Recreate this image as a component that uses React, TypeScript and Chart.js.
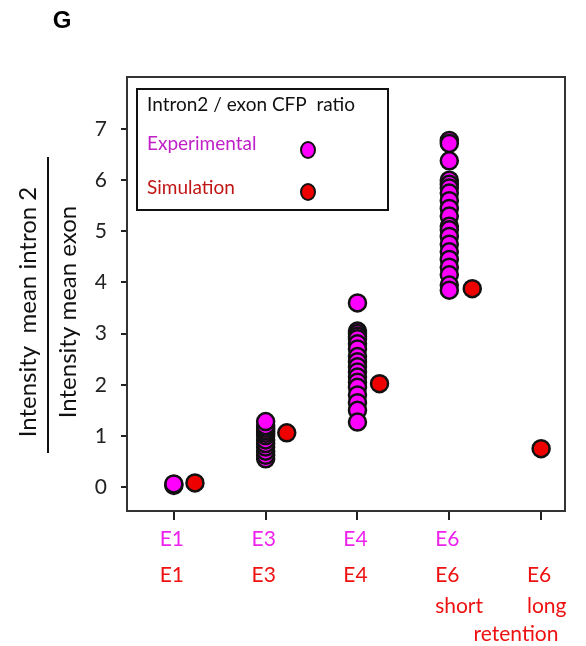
import React, { useEffect, useRef } from "react";
import { Chart, registerables } from "chart.js";

Chart.register(...registerables);

const categoryTicks = [0, 1, 2, 3, 4];
const yTicks = [0, 1, 2, 3, 4, 5, 6, 7];
const expLabels = ["E1", "E3", "E4", "E6", ""];
const simLabels = [["E1"], ["E3"], ["E4"], ["E6", "short"], ["E6", "long"]];

const expE1 = [0.03, 0.06];
const expE3 = [0.55, 0.62, 0.7, 0.78, 0.85, 0.92, 1.0, 1.05, 1.1, 1.15, 1.2, 1.28];
const expE4 = [3.6, 3.05, 3.0, 2.95, 2.9, 2.8, 2.7, 2.55, 2.45, 2.35, 2.25, 2.15, 2.05, 1.95, 1.8, 1.65, 1.5, 1.27];
const expE6 = [6.78, 6.72, 6.38, 6.0, 5.92, 5.85, 5.75, 5.6, 5.45, 5.3, 5.1, 5.03, 4.9, 4.75, 4.6, 4.45, 4.3, 4.15, 3.95, 3.85];
const simValues = [0.08, 1.06, 2.02, 3.88, 0.75];
const simX = [0.23, 1.23, 2.24, 3.25, 4.0];

const expColor = "#ff00ff";
const simColor = "#ee0000";

function buildExp() {
  const groups = [expE1, expE3, expE4, expE6];
  const out: { x: number; y: number }[] = [];
  groups.forEach((g, i) => g.forEach((v) => out.push({ x: i, y: v })));
  return out;
}

export default function App() {
  const ref = useRef<HTMLCanvasElement | null>(null);
  useEffect(() => {
    if (!ref.current) return;
    const overlay = {
      id: "overlay",
      afterDraw(chart: any) {
        const ctx = chart.ctx as CanvasRenderingContext2D;
        const a = chart.chartArea;
        const xs = chart.scales.x;
        ctx.save();
        // box top & right
        ctx.strokeStyle = "#333";
        ctx.lineWidth = 2;
        ctx.beginPath();
        ctx.moveTo(a.left, a.top);
        ctx.lineTo(a.right, a.top);
        ctx.lineTo(a.right, a.bottom);
        ctx.stroke();
        // title G
        ctx.fillStyle = "#000";
        ctx.font = "bold 24px Arial, 'Liberation Sans', sans-serif";
        ctx.textAlign = "center";
        ctx.textBaseline = "middle";
        ctx.fillText("G", 62, 21);
        // y axis title
        ctx.save();
        ctx.translate(0, 312);
        ctx.rotate(-Math.PI / 2);
        ctx.font = "24px Lato, 'Open Sans', sans-serif";
        ctx.textAlign = "center";
        ctx.fillStyle = "#111";
        ctx.fillText("Intensity  mean intron 2", 0, 28);
        ctx.fillText("Intensity mean exon", 0, 68);
        ctx.lineWidth = 2;
        ctx.strokeStyle = "#111";
        ctx.beginPath();
        ctx.moveTo(-141, 48);
        ctx.lineTo(155, 48);
        ctx.stroke();
        ctx.restore();
        // x labels
        ctx.font = "21px Lato, 'Open Sans', sans-serif";
        ctx.textBaseline = "middle";
        categoryTicks.forEach((t, i) => {
          const px = xs.getPixelForValue(t);
          const w = ctx.measureText(simLabels[i][0]).width;
          const left = px - w / 2 - 2;
          ctx.textAlign = "left";
          if (expLabels[i]) {
            ctx.fillStyle = "#ee22ee";
            ctx.fillText(expLabels[i], left, 539);
          }
          ctx.fillStyle = "#ee1111";
          simLabels[i].forEach((s, j) => {
            ctx.fillText(s, left, 575 + j * 31);
          });
        });
        ctx.fillStyle = "#ee1111";
        ctx.textAlign = "center";
        ctx.fillText("retention", 516, 634);
        // legend box
        ctx.lineWidth = 2;
        ctx.strokeStyle = "#111";
        ctx.strokeRect(137, 89, 251, 121);
        ctx.font = "19px Lato, 'Open Sans', sans-serif";
        ctx.textAlign = "left";
        ctx.fillStyle = "#111";
        ctx.fillText("Intron2 / exon CFP  ratio", 147, 105);
        ctx.fillStyle = "#c020c8";
        ctx.fillText("Experimental", 147, 144);
        ctx.fillStyle = "#c01515";
        ctx.fillText("Simulation", 147, 188);
        const drawMarker = (x: number, y: number, c: string) => {
          ctx.beginPath();
          ctx.ellipse(x, y, 7, 8, 0, 0, Math.PI * 2);
          ctx.fillStyle = c;
          ctx.fill();
          ctx.lineWidth = 2;
          ctx.strokeStyle = "#111";
          ctx.stroke();
        };
        drawMarker(308, 150, expColor);
        drawMarker(308, 192, simColor);
        ctx.restore();
      },
    };
    const chart = new Chart(ref.current, {
      type: "scatter",
      data: {
        datasets: [
          {
            label: "Experimental",
            data: buildExp(),
            backgroundColor: expColor,
            borderColor: "#111",
            borderWidth: 2.5,
            pointRadius: 8.5,
          },
          {
            label: "Simulation",
            data: simValues.map((v, i) => ({ x: simX[i], y: v })),
            backgroundColor: simColor,
            borderColor: "#111",
            borderWidth: 2.5,
            pointRadius: 8.5,
          },
        ],
      },
      options: {
        animation: false,
        responsive: false,
        layout: { padding: { left: 0, top: 77, right: 21, bottom: 0 } },
        plugins: { legend: { display: false }, tooltip: { enabled: false } },
        scales: {
          x: {
            type: "linear",
            min: -0.51,
            max: 4.26,
            afterBuildTicks: (s: any) => {
              s.ticks = categoryTicks.map((v) => ({ value: v }));
            },
            afterFit: (s: any) => {
              s.height = 135;
            },
            ticks: { callback: () => "", font: { size: 1 } },
            grid: { drawOnChartArea: false, drawTicks: true, tickLength: 9, color: "#222", lineWidth: 2 },
            border: { display: true, color: "#333", width: 2 },
          },
          y: {
            min: -0.47,
            max: 8.02,
            afterBuildTicks: (s: any) => {
              s.ticks = yTicks.map((v) => ({ value: v }));
            },
            afterFit: (s: any) => {
              s.width = 127;
            },
            ticks: {
              color: "#222",
              padding: 14,
              font: { family: "Lato, 'Open Sans', sans-serif", size: 21 },
            },
            grid: { drawOnChartArea: false, drawTicks: true, tickLength: 6, color: "#222", lineWidth: 2 },
            border: { display: true, color: "#333", width: 2 },
          },
        },
      },
      plugins: [overlay],
    } as any);
    return () => chart.destroy();
  }, []);
  return (
    <div style={{ position: "absolute", left: 0, top: 0, width: 586, height: 646, background: "#fff" }}>
      <canvas ref={ref} width={586} height={646} style={{ display: "block" }} />
    </div>
  );
}
